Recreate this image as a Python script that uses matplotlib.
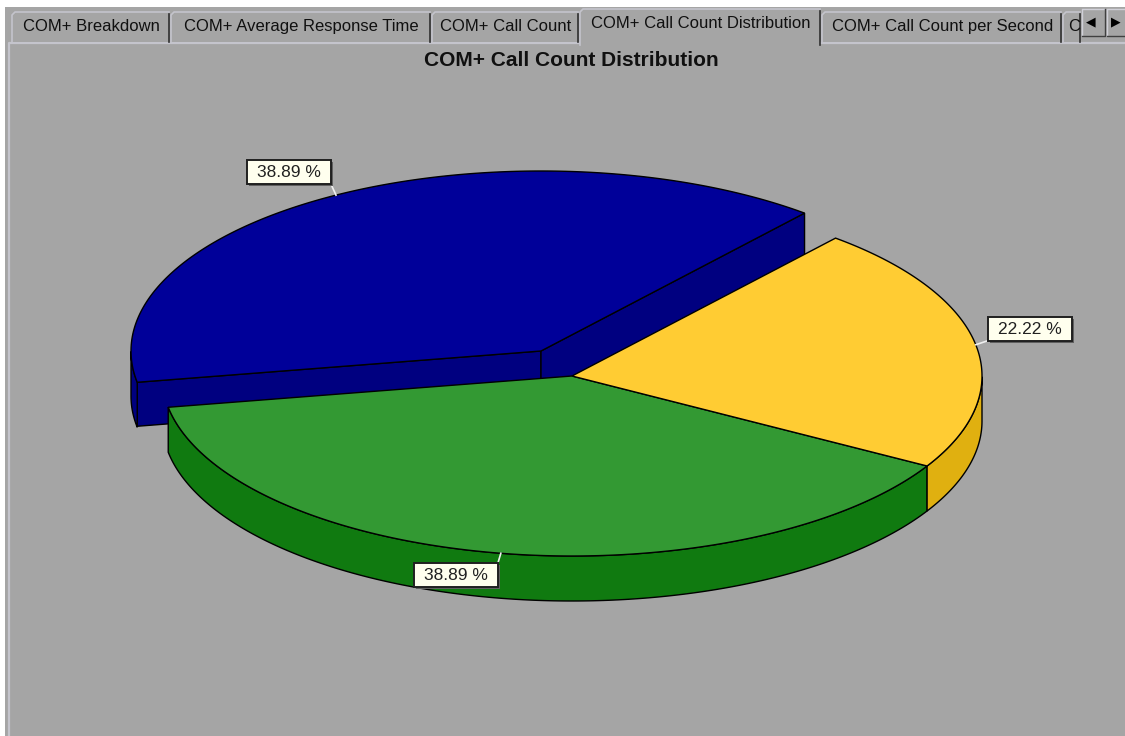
import numpy as np
import matplotlib
matplotlib.use("Agg")
import matplotlib.pyplot as plt
from matplotlib.patches import Rectangle, Polygon

# data
shares = [22.22, 38.89, 38.89]
top_colors = ["#ffcc33", "#339933", "#000099"]
side_colors = ["#e0b010", "#107a10", "#000080"]
title = "COM+ Call Count Distribution"

tab_names = ["COM+ Breakdown", "COM+ Average Response Time", "COM+ Call Count",
             "COM+ Call Count Distribution", "COM+ Call Count per Second", "C"]
tab_edges = [12, 171, 432, 580, 822, 1063, 1082]
active_tab = 3

# pie geometry in pixels
cx, cy = 572, 376
rx, ry = 410, 180
depth = 45
start_angle = 50.0
offsets = [(0, 0), (0, 0), (-31, -25)]
label_boxes = [(12, -28), (-87, 10), (-89, -35)]

plt.rcParams["font.family"] = ["Liberation Sans", "DejaVu Sans"]
BG = "#a5a5a5"

fig = plt.figure(figsize=(11.25, 7.36), dpi=100, facecolor="white")
ax = fig.add_axes([0, 0, 1, 1])
ax.set_xlim(0, 1125)
ax.set_ylim(736, 0)
ax.axis("off")


def rim_xy(a, ox, oy, dy=0):
    a = np.radians(a)
    return cx + ox + rx * np.cos(a), cy + oy - ry * np.sin(a) + dy


# window frame
ax.add_patch(Rectangle((5, 7), 1120, 729, fc=BG, ec="none", zorder=0))
ax.plot([9, 9, 1125], [736, 43, 43], color="#c4c4cc", lw=1.6, zorder=1)

# tabs
for i, name in enumerate(tab_names):
    x0, x1 = tab_edges[i], tab_edges[i + 1] - 2
    top = 9 if i == active_tab else 12
    bottom = 45 if i == active_tab else 42
    ax.add_patch(Rectangle((x0, top), x1 - x0, bottom - top, fc=BG, ec="none", zorder=2))
    ax.plot([x0, x0, x0 + 3, x1], [bottom, top + 3, top, top], color="#c4c4cc", lw=1.2, zorder=3)
    ax.plot([x1, x1], [top + 2, bottom], color="#303030", lw=1.2, zorder=3)
    y_text = 23.5 if i == active_tab else 26.5
    if name == "C":
        ax.text(x0 + 5, y_text, name, fontsize=12.0, color="#101010", va="center", ha="left", zorder=4)
    else:
        ax.text((x0 + x1) / 2 + 1, y_text, name, fontsize=12.0, color="#101010",
                va="center", ha="center", zorder=4)

# scroll buttons
for x0, mark in zip([1082, 1107], ["◀", "▶"]):
    ax.add_patch(Rectangle((x0, 9), 23, 27, fc=BG, ec="none", zorder=5))
    ax.plot([x0, x0, x0 + 23], [36, 9, 9], color="#d0d0d8", lw=1, zorder=6)
    ax.plot([x0, x0 + 23, x0 + 23], [36, 36, 9], color="#404040", lw=1, zorder=6)
    ax.text(x0 + 9, 22, mark, fontsize=9, ha="center", va="center", color="black",
            family="DejaVu Sans", zorder=6)

ax.text(571, 60.5, title, fontsize=15, fontweight="bold", ha="center", va="center", color="#101010")

# slice angles, going clockwise from the start angle
spans = [s / sum(shares) * 360 for s in shares]
starts = start_angle - np.concatenate([[0], np.cumsum(spans)[:-1]])
ends = starts - np.array(spans)

order = [2, 1, 0]  # back slice first
for i in order:
    ox, oy = offsets[i]
    a = np.linspace(starts[i], ends[i], 200)
    x, y = rim_xy(a, ox, oy)
    vx, vy = cx + ox, cy + oy

    # cut faces only show on the exploded slice
    if i == 2:
        for ang in (starts[i], ends[i]):
            ex, ey = rim_xy(ang, ox, oy)
            ax.add_patch(Polygon([(vx, vy), (ex, ey), (ex, ey + depth - 1), (vx, vy + depth - 1)],
                                 fc=side_colors[i], ec="black", lw=1, zorder=10))

    # outer wall: lower half of the ellipse only
    rad = np.radians(a)
    front = np.sin(rad) < 0
    if front.any():
        fx, fy = x[front], y[front]
        wall = np.column_stack([np.r_[fx, fx[::-1]], np.r_[fy, fy[::-1] + depth]])
        ax.add_patch(Polygon(wall, fc=side_colors[i], ec="black", lw=1, zorder=11 if i == 2 else 20))

    top = np.column_stack([np.r_[vx, x], np.r_[vy, y]])
    ax.add_patch(Polygon(top, fc=top_colors[i], ec="black", lw=1, zorder=12 if i == 2 else 21))

# percent labels with their leader lines
for i in range(len(shares)):
    ox, oy = offsets[i]
    mid = (starts[i] + ends[i]) / 2
    ax_, ay_ = rim_xy(mid, ox, oy)
    dx, dy = label_boxes[i]
    bx, by = ax_ + dx, ay_ + dy
    corner_x = bx if dx > 0 else bx + 84
    corner_y = by + 24 if dy < 0 else by
    ax.plot([ax_, corner_x], [ay_, corner_y], color="#f0f0f0", lw=1.2, zorder=30)
    ax.add_patch(Rectangle((bx + 2, by + 2), 84, 24, fc="#606060", ec="none", zorder=31))
    ax.add_patch(Rectangle((bx, by), 84, 24, fc="#ffffee", ec="#202020", lw=1.4, zorder=32))
    ax.text(bx + 42, by + 12.5, f"{shares[i]:.2f} %", fontsize=12.5, ha="center", va="center",
            color="#202020", zorder=33)

fig.savefig("out.png", dpi=100, facecolor="white")
